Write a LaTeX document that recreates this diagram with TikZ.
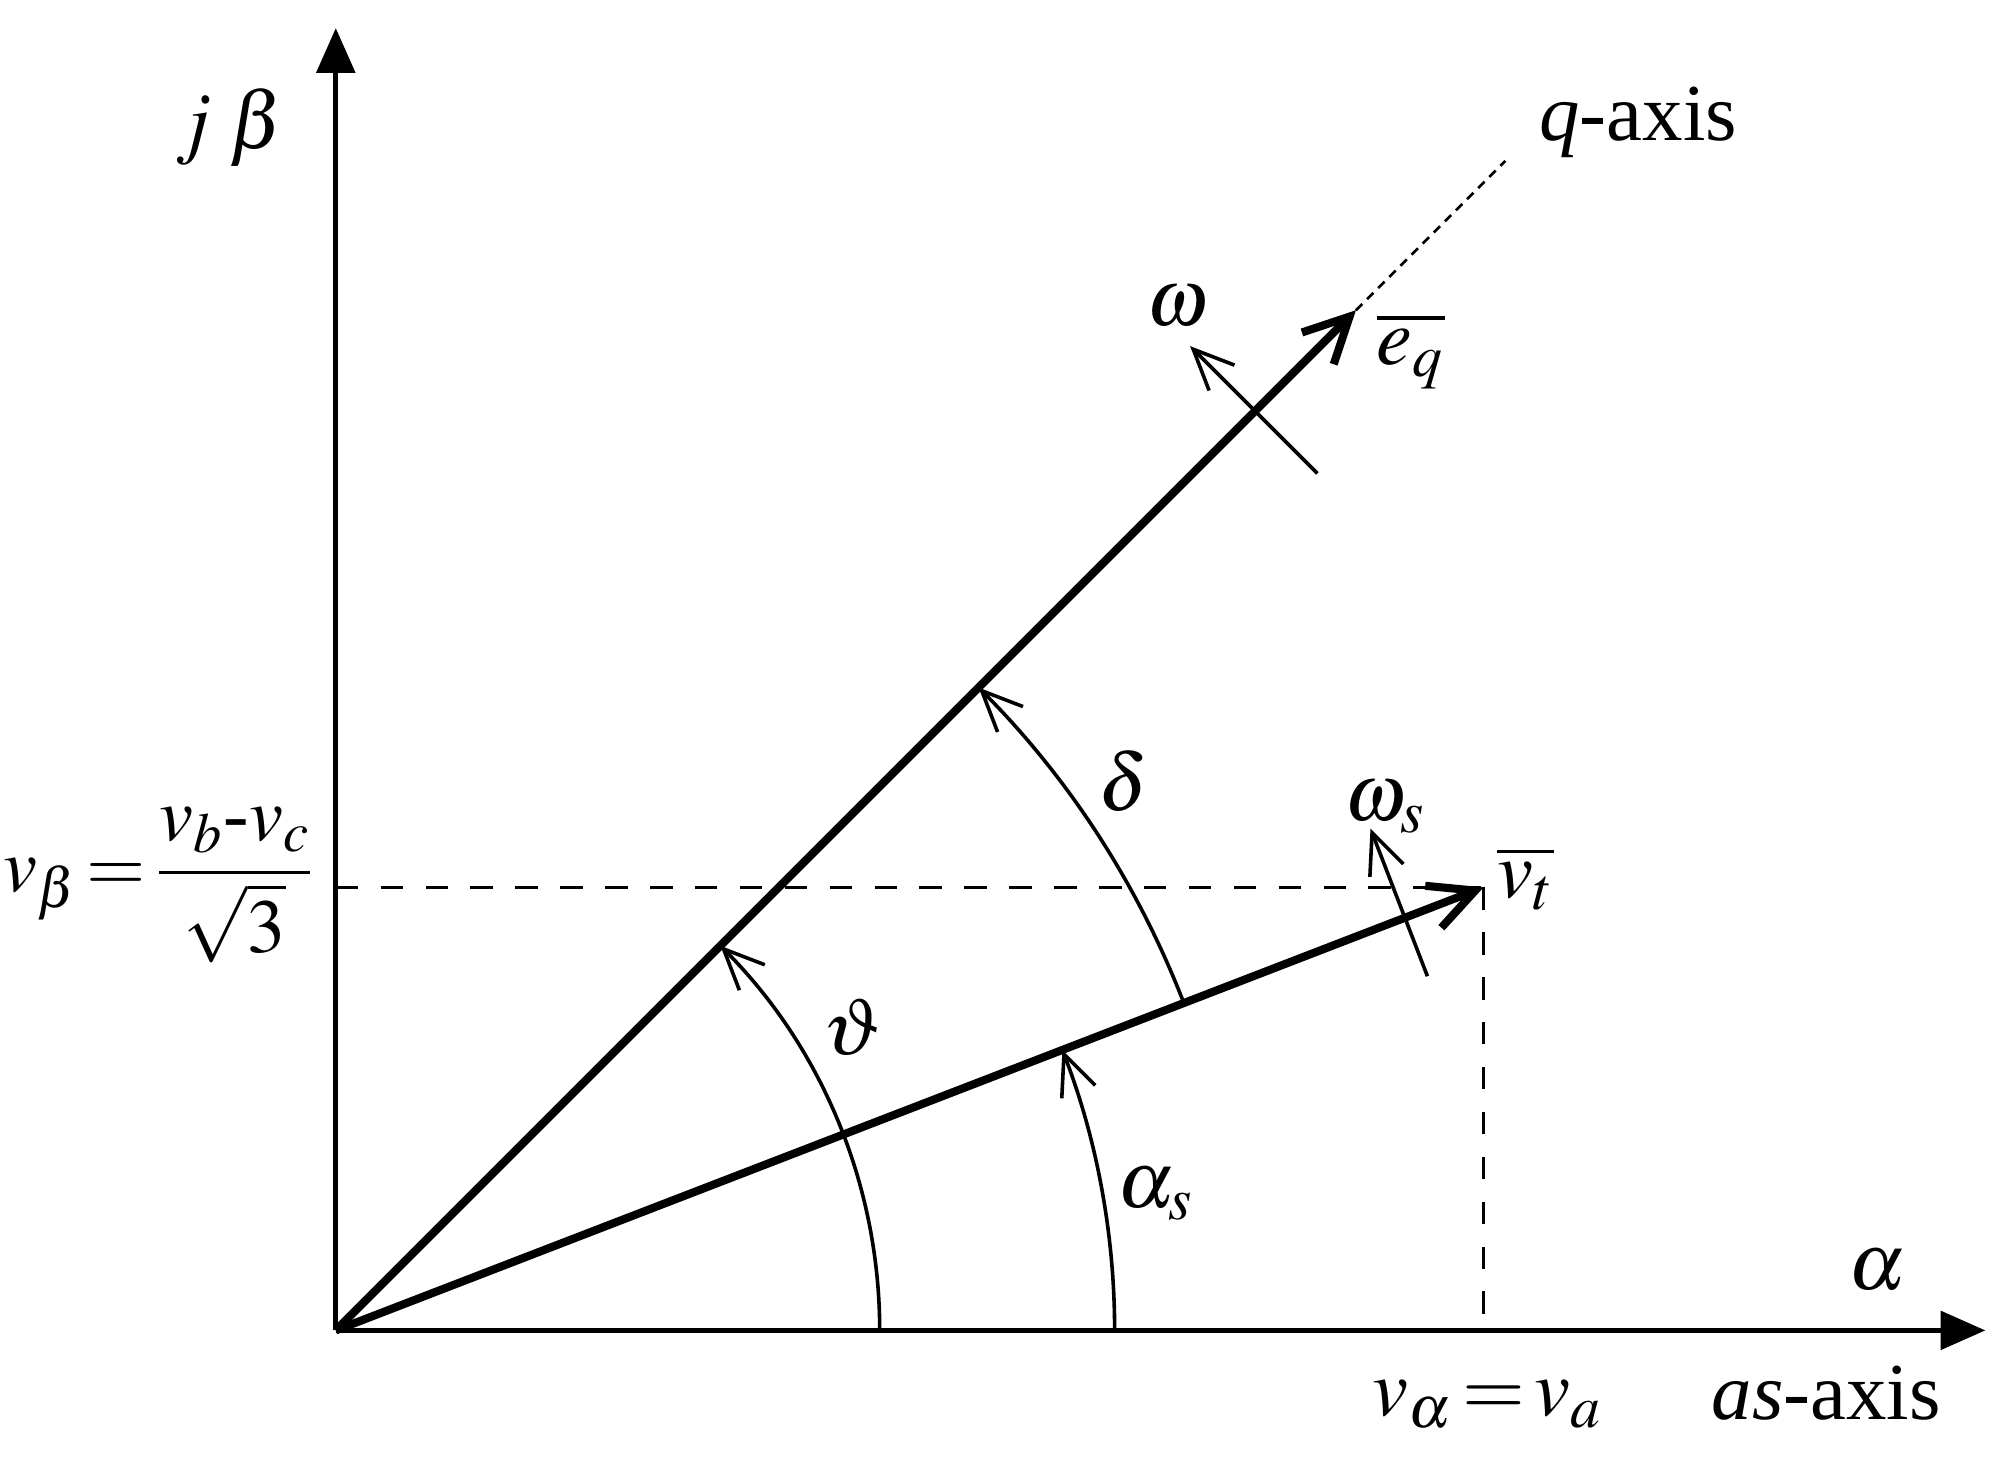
\documentclass[tikz,border=0pt]{standalone}
\usepackage{amsmath}
\usepackage{mathptmx}
\usepackage[no-math]{fontspec}
\setmainfont{Liberation Serif}
\usetikzlibrary{arrows.meta}
\begin{document}
\begin{tikzpicture}[x=0.01cm,y=0.01cm,
  axisline/.style={line width=1.2pt,-{Triangle[length=10pt,width=8.5pt]}},
  vecline/.style={line width=1.8pt,-{Straight Barb[length=10pt,width=10pt]}},
  thinarrow/.style={line width=0.8pt,-{Straight Barb[length=9pt,width=8pt]}},
  guide/.style={line width=0.8pt,dash pattern=on 5pt off 5pt},
  lbl/.style={inner sep=0pt,font=\fontsize{18}{22}\selectfont}]
\useasboundingbox (-263,-116) rectangle (1305,1042);
\coordinate (O) at (0,0);
\coordinate (Ytip) at (0,1020);
\coordinate (Xtip) at (1292,0);
\coordinate (Eq) at (799,799);
\coordinate (Qend) at (916,916);
\coordinate (Vt) at (899,347);
\coordinate (Vb) at (0,347);
\coordinate (Va) at (899,0);
\coordinate (W1) at (768.8,671.2);
\coordinate (W2) at (669.1,770.9);
\coordinate (S1) at (855,277.4);
\coordinate (S2) at (810.4,393);
% axes
\draw[axisline] (O) -- (Ytip);
\draw[axisline] (O) -- (Xtip);
% projections
\draw[guide] (Vb) -- (Vt);
\draw[guide] (Vt) -- (Va);
\draw[line width=0.6pt, dash pattern=on 2pt off 1.5pt] (Eq) -- (Qend);
% vectors
\draw[vecline] (O) -- (Eq);
\draw[vecline] (O) -- (Vt);
% rotation arrows
\draw[thinarrow] (W1) -- (W2);
\draw[thinarrow] (S1) -- (S2);
% angle arcs
\draw[thinarrow] (426,0) arc[start angle=0,end angle=45,radius=426];
\draw[thinarrow] (610,0) arc[start angle=0,end angle=21.1,radius=610];
\draw[thinarrow] (21.1:712) arc[start angle=21.1,end angle=45,radius=712];
% labels
\node[lbl] (jb) at (-83,942) {$j\;\beta$};
\node[lbl,anchor=base west] (qax) at (942,932) {\textit{q}-axis};
\node[lbl] (wq) at (659,802) {$\omega$};
\node[lbl] (eq) at (842,767) {$\overline{e_q}$};
\node[lbl] (ws) at (822,410) {$\omega_s$};
\node[lbl] (vt) at (932,354) {$\overline{v_t}$};
\node[lbl] (dl) at (617,430) {$\delta$};
\node[lbl] (th) at (405,237) {$\vartheta$};
\node[lbl] (as) at (642,107) {$\alpha_s$};
\node[lbl] (al) at (1207,47) {$\alpha$};
\node[lbl,anchor=east,font=\fontsize{17}{20}\selectfont] (vbeta) at (-15,349) {$v_\beta\!=\!\dfrac{v_b\mbox{-}v_c}{\sqrt{3}}$};
\node[lbl] (valpha) at (902,-58) {$v_\alpha\!=\! v_a$};
\node[lbl,anchor=base west] (asax) at (1077,-70) {\textit{as}-axis};
\end{tikzpicture}
\end{document}
